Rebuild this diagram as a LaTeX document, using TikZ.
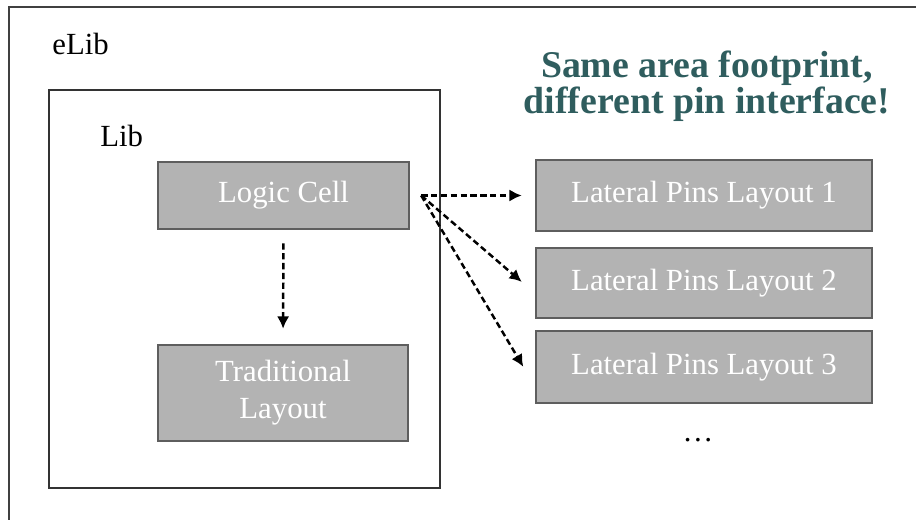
\documentclass[tikz,border=0pt]{standalone}
\usepackage{fontspec}
\setmainfont{Liberation Serif}
\usetikzlibrary{arrows.meta}
\definecolor{cellgray}{HTML}{B3B3B3}
\definecolor{celledge}{HTML}{5E5E5E}
\definecolor{titleteal}{HTML}{2F5D5E}
\begin{document}
\begin{tikzpicture}[x=0.02cm,y=-0.02cm,
  lbl/.style={font=\fontsize{17.5}{21}\selectfont,inner sep=0pt},
  cell/.style={draw=celledge,line width=1.5pt,fill=cellgray,text=white,
    font=\fontsize{17.5}{21}\selectfont,inner sep=0pt,align=center},
  dasharrow/.style={dash pattern=on 3.6pt off 2pt,line width=1.4pt,
    -{Latex[length=7pt,width=7pt]}}]
\useasboundingbox (0,0) rectangle (916,520);
\begin{scope}                       % library frames
\draw[black!75,line width=0.7pt] (9,7) rectangle (940,540);
\draw[black!80,line width=0.9pt] (49,90) rectangle (440,488);
\node[lbl,anchor=base west] (elib) at (52,55) {eLib};
\node[lbl,anchor=base west] (lib) at (100,147) {Lib};
\end{scope}
\node[cell,minimum width=5.02cm,minimum height=1.34cm] (logic) at (283.5,195.5) {Logic Cell};
\node[cell,minimum width=5.0cm,minimum height=1.92cm] (trad) at (283,393) {Traditional\\Layout};
\node[cell,minimum width=6.72cm,minimum height=1.42cm] (lat1) at (704,195.5) {Lateral Pins Layout 1};
\node[cell,minimum width=6.72cm,minimum height=1.40cm] (lat2) at (704,283) {Lateral Pins Layout 2};
\node[cell,minimum width=6.72cm,minimum height=1.44cm] (lat3) at (704,367) {Lateral Pins Layout 3};
\node[lbl,anchor=base] (more) at (698,441) {…};
\node[font=\fontsize{21.5}{18.5}\selectfont\bfseries,text=titleteal,align=center,inner sep=0pt]
  (title) at (707,86) {Same area footprint,\\different pin interface!};
\draw[dasharrow,shorten <=7.4pt,shorten >=8.5pt] (logic.south) -- (trad.north);
\coordinate (fan) at ([xshift=6.2pt]logic.east);
\draw[dasharrow,shorten >=7.4pt] (fan) -- (lat1.west);
\draw[dasharrow,shorten >=9.7pt] (fan) -- ([yshift=-5.7pt]lat2.west);
\draw[dasharrow,shorten >=12.7pt] (fan) -- ([yshift=-10.8pt]lat3.west);
\end{tikzpicture}
\end{document}
